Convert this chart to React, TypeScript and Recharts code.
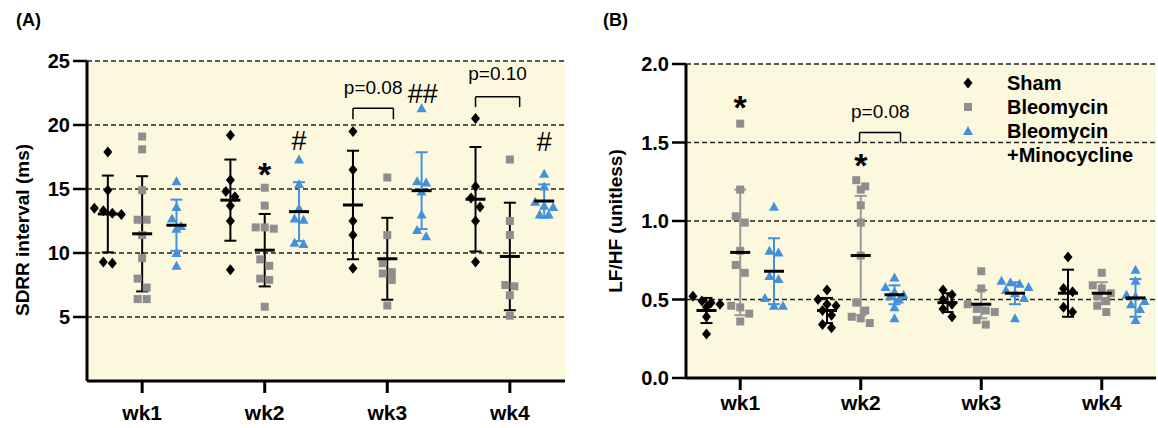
import React from "react";
import {
  ScatterChart,
  Scatter,
  XAxis,
  YAxis,
  CartesianGrid,
  ErrorBar,
  ReferenceLine,
  ReferenceDot,
  Legend,
} from "recharts";

const weeks = ["wk1", "wk2", "wk3", "wk4"];
const groups = ["Sham", "Bleomycin", "Bleomycin\n+Minocycline"];

// (A) SDRR interval (ms), one inner array per week
const shamSdrr = [
  [17.9, 14.9, 13.5, 13.3, 13.1, 13.0, 9.3, 9.2],
  [19.2, 15.7, 14.8, 14.4, 13.7, 12.5, 8.7],
  [19.5, 16.5, 12.5, 11.4, 8.8],
  [20.5, 15.2, 14.3, 13.6, 12.5, 9.3],
];
const bleoSdrr = [
  [19.1, 18.1, 14.9, 12.6, 12.6, 11.4, 9.6, 8.0, 7.3, 6.4, 6.4],
  [15.1, 13.7, 12.0, 12.0, 11.9, 9.5, 9.0, 8.0, 7.9, 5.8],
  [15.9, 11.4, 9.2, 8.5, 8.4, 7.9, 5.9],
  [17.3, 12.5, 11.4, 7.5, 7.4, 6.7, 5.1],
];
const minoSdrr = [
  [15.6, 13.6, 12.7, 12.1, 11.9, 10.0, 9.0],
  [17.3, 15.4, 13.5, 12.7, 12.6, 10.8, 10.7],
  [21.3, 15.6, 15.5, 14.8, 13.0, 11.8, 11.3],
  [16.2, 15.2, 14.0, 13.7, 13.6, 13.0, 13.0],
];
const sdrrMeans = [
  [13.05, 14.13, 13.75, 14.2],
  [11.5, 10.22, 9.55, 9.73],
  [12.17, 13.23, 14.87, 14.06],
];
const sdrrSds = [
  [3.0, 3.17, 4.24, 4.08],
  [4.5, 2.83, 3.2, 4.2],
  [2.0, 2.3, 3.0, 1.3],
];

// (B) LF/HF (unitless)
const shamLfhf = [
  [0.52, 0.49, 0.48, 0.47, 0.45, 0.39, 0.28],
  [0.56, 0.5, 0.47, 0.46, 0.43, 0.4, 0.34, 0.32],
  [0.56, 0.53, 0.5, 0.47, 0.44, 0.39],
  [0.77, 0.57, 0.55, 0.45, 0.42],
];
const bleoLfhf = [
  [1.62, 1.2, 1.03, 0.99, 0.81, 0.72, 0.67, 0.46, 0.45, 0.41, 0.36],
  [1.26, 1.22, 1.2, 1.1, 0.99, 0.78, 0.48, 0.43, 0.39, 0.38, 0.35],
  [0.68, 0.57, 0.47, 0.44, 0.43, 0.42, 0.37, 0.34],
  [0.67, 0.59, 0.57, 0.54, 0.52, 0.49, 0.46, 0.42],
];
const minoLfhf = [
  [1.09, 0.81, 0.8, 0.65, 0.63, 0.51, 0.46, 0.46],
  [0.64, 0.58, 0.55, 0.53, 0.52, 0.5, 0.45, 0.38],
  [0.62, 0.61, 0.6, 0.58, 0.56, 0.54, 0.51, 0.38],
  [0.69, 0.62, 0.53, 0.52, 0.49, 0.47, 0.44, 0.37],
];
const lfhfMeans = [
  [0.43, 0.43, 0.48, 0.54],
  [0.8, 0.78, 0.47, 0.54],
  [0.68, 0.53, 0.54, 0.51],
];
const lfhfSds = [
  [0.08, 0.08, 0.06, 0.15],
  [0.4, 0.38, 0.09, 0.07],
  [0.21, 0.06, 0.07, 0.12],
];

// significance marks, in data units
const sdrrNotes = [
  { x: 2.0, y: 16.8, text: "*" },
  { x: 2.28, y: 18.8, text: "#" },
  { x: 2.885, y: 22.97, text: "p=0.08" },
  { x: 3.29, y: 22.5, text: "##" },
  { x: 3.9, y: 24.05, text: "p=0.10" },
  { x: 4.28, y: 18.7, text: "#" },
];
const sdrrBrackets = [
  { x1: 2.72, x2: 3.05, y: 21.3, foot: 20.45 },
  { x1: 3.72, x2: 4.08, y: 22.2, foot: 21.4 },
];
const lfhfNotes = [
  { x: 1.0, y: 1.774, text: "*" },
  { x: 2.0, y: 1.404, text: "*" },
  { x: 2.163, y: 1.697, text: "p=0.08" },
];
const lfhfBrackets = [{ x1: 1.99, x2: 2.33, y: 1.563, foot: 1.5 }];

const FONT = "'Liberation Sans', Arial, Helvetica, sans-serif";
const BLACK = "#000";
const GREY = "#8e8e8e";
const BLUE = "#4390db";
const BG = "#fcf8de";
const groupOffset = [-0.28, 0, 0.28];

const Diamond = (p: any) => (
  <path
    d={`M${p.cx},${p.cy - 5.5}L${p.cx + 4.5},${p.cy}L${p.cx},${p.cy + 5.5}L${p.cx - 4.5},${p.cy}Z`}
    fill={BLACK}
  />
);
const Square = (p: any) => (
  <rect x={p.cx - 4} y={p.cy - 4} width={8} height={8} fill={GREY} />
);
const Triangle = (p: any) => (
  <path
    d={`M${p.cx},${p.cy - 5}L${p.cx + 5},${p.cy + 4}L${p.cx - 5},${p.cy + 4}Z`}
    fill={BLUE}
  />
);
const MeanBar = (p: any) => (
  <line x1={p.cx - 10} x2={p.cx + 10} y1={p.cy} y2={p.cy} stroke={BLACK} strokeWidth={3} />
);
const shapes = [Diamond, Square, Triangle];
const colors = [BLACK, GREY, BLUE];

// spread points that would overlap sideways, centred on the group
function swarm(perWeek: number[][], offset: number, pxX: number, pxY: number) {
  const gap = 9;
  const out: { x: number; y: number }[] = [];
  perWeek.forEach((vals, w) => {
    const sorted = [...vals].sort((a, b) => b - a);
    let i = 0;
    while (i < sorted.length) {
      let j = i;
      while (j + 1 < sorted.length && (sorted[i] - sorted[j + 1]) * pxY < gap) j++;
      const n = j - i + 1;
      for (let k = 0; k < n; k++) {
        out.push({
          x: w + 1 + offset + ((k - (n - 1) / 2) * gap) / pxX,
          y: sorted[i + k],
        });
      }
      i = j + 1;
    }
  });
  return out;
}

function noteShape(text: string) {
  const star = text === "*";
  const size = star ? 34 : text.startsWith("#") ? 27 : 19;
  return (p: any) => (
    <text
      x={p.cx}
      y={p.cy}
      dy={star ? "0.58em" : "0.36em"}
      textAnchor="middle"
      fontSize={size}
      fontWeight={star ? "bold" : "normal"}
      fontFamily={FONT}
      fill={BLACK}
    >
      {text}
    </text>
  );
}

const legendContent = (props: any) => {
  const items = (props.payload || [])
    .filter((e: any) => groups.includes(e.value))
    .sort((a: any, b: any) => groups.indexOf(a.value) - groups.indexOf(b.value));
  return (
    <div
      style={{
        fontFamily: FONT,
        fontWeight: "bold",
        fontSize: 20,
        lineHeight: "24px",
        color: BLACK,
        whiteSpace: "nowrap",
      }}
    >
      {items.map((e: any, i: number) => {
        const Icon = shapes[groups.indexOf(e.value)];
        return (
          <div key={i} style={{ display: "flex", alignItems: "flex-start" }}>
            <svg width={12} height={24} style={{ flex: "none" }}>
              <Icon cx={6} cy={12} />
            </svg>
            <div style={{ marginLeft: 33 }}>
              {String(e.value)
                .split("\n")
                .map((l, k) => (
                  <div key={k}>{l}</div>
                ))}
            </div>
          </div>
        );
      })}
    </div>
  );
};

type PanelProps = {
  width: number;
  margin: { top: number; right: number; bottom: number; left: number };
  yWidth: number;
  xTickMargin: number;
  domain: [number, number];
  ticks: number[];
  yFormat: (v: number) => string;
  yLabel: string;
  labelDx: number;
  labelDy: number;
  values: number[][][];
  means: number[][];
  sds: number[][];
  errColors: string[];
  pxX: number;
  pxY: number;
  notes: { x: number; y: number; text: string }[];
  brackets: { x1: number; x2: number; y: number; foot: number }[];
  legend?: boolean;
};

function Panel(p: PanelProps) {
  const tickFont = { fontSize: 20, fontWeight: "bold", fill: BLACK, fontFamily: FONT };
  return (
    <ScatterChart width={p.width} height={428} margin={p.margin}>
      <CartesianGrid
        vertical={false}
        stroke="#222"
        strokeWidth={1.3}
        strokeDasharray="5 3"
        fill={BG}
        fillOpacity={1}
      />
      <XAxis
        type="number"
        dataKey="x"
        domain={[0.55, 4.45]}
        ticks={[1, 2, 3, 4]}
        interval={0}
        allowDataOverflow
        tickFormatter={(v: number) => weeks[v - 1]}
        height={40}
        tickSize={12}
        tickMargin={p.xTickMargin}
        axisLine={{ stroke: BLACK, strokeWidth: 3 }}
        tickLine={{ stroke: BLACK, strokeWidth: 3 }}
        tick={{ ...tickFont, fontSize: 21 }}
      />
      <YAxis
        type="number"
        dataKey="y"
        domain={p.domain}
        ticks={p.ticks}
        interval={0}
        allowDataOverflow
        width={p.yWidth}
        tickFormatter={p.yFormat}
        tickSize={14}
        tickMargin={3}
        axisLine={{ stroke: BLACK, strokeWidth: 3 }}
        tickLine={{ stroke: BLACK, strokeWidth: 2.5 }}
        tick={tickFont}
        label={{
          value: p.yLabel,
          angle: -90,
          position: "center",
          dx: p.labelDx,
          dy: p.labelDy,
          fill: BLACK,
          fontSize: 19,
          fontWeight: "bold",
          fontFamily: FONT,
        }}
      />
      {groups.map((g, i) => (
        <Scatter
          key={g}
          name={g}
          data={swarm(p.values[i], groupOffset[i], p.pxX, p.pxY)}
          fill={colors[i]}
          shape={shapes[i]}
          isAnimationActive={false}
        />
      ))}
      {groups.map((g, i) => (
        <Scatter
          key={"mean-" + g}
          name={g + " mean"}
          legendType="none"
          data={p.means[i].map((m, w) => ({ x: w + 1 + groupOffset[i], y: m, sd: p.sds[i][w] }))}
          shape={MeanBar}
          isAnimationActive={false}
        >
          <ErrorBar
            dataKey="sd"
            direction="y"
            width={6}
            stroke={p.errColors[i]}
            strokeWidth={2}
            isAnimationActive={false}
          />
        </Scatter>
      ))}
      {p.brackets.map((b, i) => [
        <ReferenceLine
          key={"t" + i}
          segment={[
            { x: b.x1, y: b.y },
            { x: b.x2, y: b.y },
          ]}
          stroke={BLACK}
          strokeWidth={1.5}
        />,
        <ReferenceLine
          key={"l" + i}
          segment={[
            { x: b.x1, y: b.y },
            { x: b.x1, y: b.foot },
          ]}
          stroke={BLACK}
          strokeWidth={1.5}
        />,
        <ReferenceLine
          key={"r" + i}
          segment={[
            { x: b.x2, y: b.y },
            { x: b.x2, y: b.foot },
          ]}
          stroke={BLACK}
          strokeWidth={1.5}
        />,
      ])}
      {p.notes.map((n, i) => (
        <ReferenceDot key={"n" + i} x={n.x} y={n.y} r={1} shape={noteShape(n.text)} />
      ))}
      {p.legend && (
        <Legend
          layout="vertical"
          align="center"
          verticalAlign="middle"
          wrapperStyle={{ top: 71, left: 372 }}
          content={legendContent}
        />
      )}
    </ScatterChart>
  );
}

const titleStyle: React.CSSProperties = {
  position: "absolute",
  fontFamily: FONT,
  fontWeight: "bold",
  fontSize: 18,
  top: 10,
};

export default function App() {
  return (
    <div style={{ position: "absolute", left: 0, top: 0, width: 1158, height: 428, background: "#fff" }}>
      <div style={{ ...titleStyle, left: 16 }}>(A)</div>
      <div style={{ ...titleStyle, left: 603 }}>(B)</div>
      <div style={{ position: "absolute", left: 0, top: 0 }}>
        <Panel
          width={580}
          margin={{ top: 61, right: 15, bottom: 7, left: 0 }}
          yWidth={87}
          xTickMargin={12}
          domain={[0, 25]}
          ticks={[5, 10, 15, 20, 25]}
          yFormat={(v) => String(v)}
          yLabel="SDRR interval (ms)"
          labelDx={-21}
          labelDy={9}
          values={[shamSdrr, bleoSdrr, minoSdrr]}
          means={sdrrMeans}
          sds={sdrrSds}
          errColors={[BLACK, BLACK, BLUE]}
          pxX={122.5}
          pxY={12.8}
          notes={sdrrNotes}
          brackets={sdrrBrackets}
        />
      </div>
      <div style={{ position: "absolute", left: 590, top: 0 }}>
        <Panel
          width={568}
          margin={{ top: 64, right: 2, bottom: 10, left: 0 }}
          yWidth={96}
          xTickMargin={5}
          domain={[0, 2]}
          ticks={[0, 0.5, 1, 1.5, 2]}
          yFormat={(v) => v.toFixed(1)}
          yLabel="LF/HF (unitless)"
          labelDx={-23}
          labelDy={0}
          values={[shamLfhf, bleoLfhf, minoLfhf]}
          means={lfhfMeans}
          sds={lfhfSds}
          errColors={[BLACK, "#9a9a9a", BLUE]}
          pxX={120.3}
          pxY={157}
          notes={lfhfNotes}
          brackets={lfhfBrackets}
          legend
        />
      </div>
    </div>
  );
}
